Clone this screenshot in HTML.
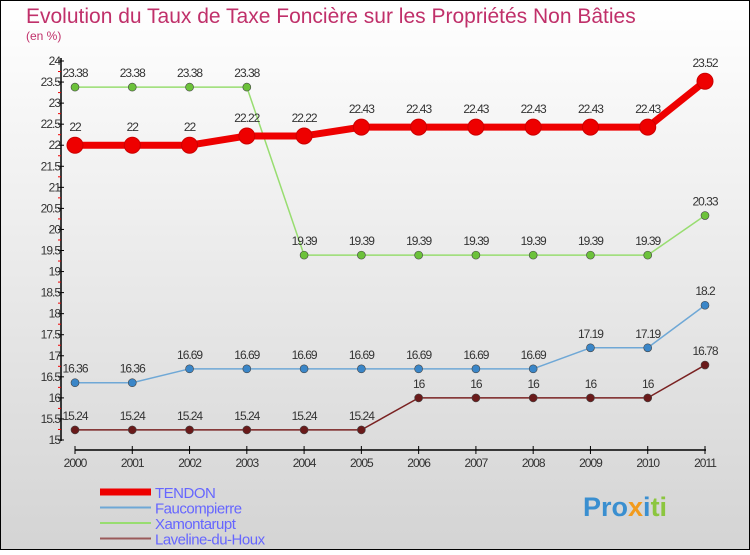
<!DOCTYPE html>
<html><head><meta charset="utf-8"><style>
html,body{margin:0;padding:0}
body{width:750px;height:550px;overflow:hidden;font-family:"Liberation Sans",sans-serif}
svg text{font-family:"Liberation Sans",sans-serif}
</style></head><body>
<svg width="750" height="550" xmlns="http://www.w3.org/2000/svg">
<defs><linearGradient id="bg" x1="0" y1="0" x2="0" y2="1"><stop offset="0" stop-color="#ffffff"/><stop offset="1" stop-color="#d4d4d4"/></linearGradient></defs>
<rect x="0.5" y="0.5" width="749" height="549" fill="url(#bg)" stroke="#000"/>
<text x="26" y="23" font-size="21" fill="#c0306a">Evolution du Taux de Taxe Foncière sur les Propriétés Non Bâties</text>
<text x="26" y="40" font-size="12" fill="#c0306a">(en %)</text>
<g id="axes"></g>
<g id="series"></g>
<g id="legend"></g>
<text x="583" y="516" font-size="27" font-weight="bold" fill="#3a8fd0">Pro<tspan fill="#f29b1d">x</tspan><tspan fill="#3a8fd0">i</tspan><tspan fill="#8cc63f">ti</tspan></text>
</svg>
<script>
const years=[2000,2001,2002,2003,2004,2005,2006,2007,2008,2009,2010,2011];
const tendon=[22,22,22,22.22,22.22,22.43,22.43,22.43,22.43,22.43,22.43,23.52];
const faucompierre=[16.36,16.36,16.69,16.69,16.69,16.69,16.69,16.69,16.69,17.19,17.19,18.2];
const xamontarupt=[23.38,23.38,23.38,23.38,19.39,19.39,19.39,19.39,19.39,19.39,19.39,20.33];
const laveline=[15.24,15.24,15.24,15.24,15.24,15.24,16,16,16,16,16,16.78];
const yTicks=[15,15.5,16,16.5,17,17.5,18,18.5,19,19.5,20,20.5,21,21.5,22,22.5,23,23.5,24];
const seriesNames=["TENDON","Faucompierre","Xamontarupt","Laveline-du-Houx"];
const NS="http://www.w3.org/2000/svg";
const xS=i=>75+i*(705-75)/(years.length-1);
const yS=v=>440-(v-15)*(440-61)/9;
function mk(tag,attrs,parent){const e=document.createElementNS(NS,tag);for(const k in attrs)e.setAttribute(k,attrs[k]);parent.appendChild(e);return e;}
const ax=document.getElementById('axes');
let l=mk('line',{x1:61,y1:58,x2:61,y2:441,stroke:'#000','stroke-width':1.5},ax);


l=mk('line',{x1:75,y1:450,x2:706,y2:450,stroke:'#000','stroke-width':1.5},ax);


yTicks.forEach(v=>{const y=yS(v);
 mk('line',{x1:58,y1:y,x2:64,y2:y,stroke:'#000'},ax);
 if(v<24) mk('line',{x1:58,y1:yS(v+0.25),x2:61,y2:yS(v+0.25),stroke:'#e00'},ax);
 const t=mk('text',{x:60,y:y+4,'font-size':12,'text-anchor':'end',fill:'#333','letter-spacing':'-1'},ax);t.textContent=v;
 
 
});
years.forEach((yr,i)=>{const x=xS(i);
 mk('line',{x1:x,y1:446,x2:x,y2:454,stroke:'#000'},ax);
 const t=mk('text',{x:x,y:467,'font-size':12,'text-anchor':'middle',fill:'#333','letter-spacing':'-1'},ax);t.textContent=yr;
 
 
});
const sg=document.getElementById('series');
const defs=[[laveline,'#7a2222','#6a1a1a',1.5,4,'laveline-du-houx'],[faucompierre,'#6fa8d6','#3a86c8',1.5,4,'faucompierre'],[xamontarupt,'#98dd70','#6cc23a',1.5,4,'xamontarupt'],[tendon,'#ee0000','#ee0000',7,8,'tendon']];
defs.forEach(([d,lc,pc,w,r,name])=>{
 const g=mk('g',{},sg);
 
 
 const p=mk('polyline',{points:d.map((v,i)=>xS(i)+','+yS(v)).join(' '),fill:'none',stroke:lc,'stroke-width':w,'stroke-linejoin':'round'},g);
 
 
 d.forEach((v,i)=>{
  const c=mk('circle',{cx:xS(i),cy:yS(v),r:r,fill:pc,stroke:name==='tendon'?'#cc0000':'#444','stroke-width':name==='tendon'?1:0.6},g);
  
  
  const t=mk('text',{x:xS(i),y:yS(v)-(name==='tendon'?14:10),'font-size':12,'text-anchor':'middle',fill:'#333','letter-spacing':'-1'},g);t.textContent=v;
  
  
 });
});
const lg=document.getElementById('legend');
const lcols=['#ee0000','#6fa8d6','#98dd70','#9a5a5a'];const lw=[7,2,2,2];
seriesNames.forEach((n,i)=>{const y=492+i*15.5;
 const g=mk('g',{},lg);
 
 
 mk('line',{x1:100,y1:y,x2:151,y2:y,stroke:lcols[i],'stroke-width':lw[i]},g);
 const t=mk('text',{x:155,y:y+6,'font-size':15,fill:'#6666ff','letter-spacing':'-0.5'},g);t.textContent=n;
});
</script>
</body></html>
